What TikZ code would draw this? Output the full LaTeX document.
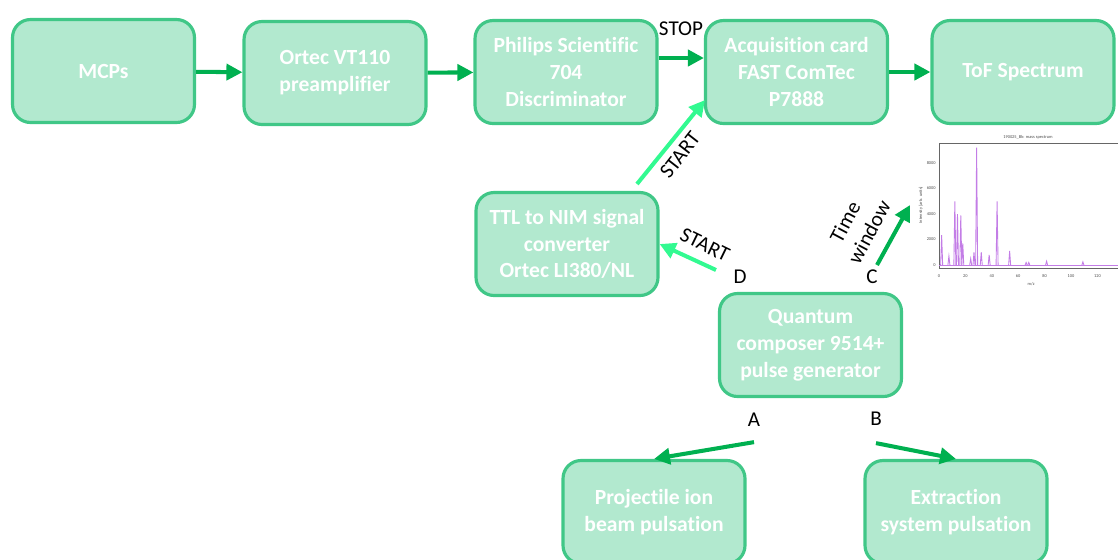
\documentclass[tikz,border=0pt]{standalone}
\usepackage{fontspec}
\setmainfont{Carlito}[Ligatures=NoCommon]
\usetikzlibrary{arrows.meta}

\definecolor{boxfill}{RGB}{178,233,207}
\definecolor{boxline}{RGB}{64,199,135}
\definecolor{darkgreen}{RGB}{0,176,80}
\definecolor{mintgreen}{RGB}{50,250,145}
\definecolor{peakcol}{RGB}{195,125,230}

\tikzset{
  block/.style={draw=boxline, fill=boxfill, line width=1.8pt, rounded corners=0.36cm,
    minimum width=3.64cm, minimum height=2.06cm, align=center, text=white,
    font=\fontsize{12.3}{15.3}\selectfont\bfseries},
  darkarr/.style={draw=darkgreen, line width=2.3pt, -{Triangle[length=0.32cm,width=0.32cm]}},
  mintarr/.style={draw=mintgreen, line width=2.3pt, -{Triangle[length=0.32cm,width=0.32cm]}},
  tag/.style={font=\fontsize{12}{14}\selectfont, inner sep=0pt},
  tiny/.style={font=\fontsize{2.5}{3}\selectfont, inner sep=0pt, text=black!70},
}

\begin{document}
\begin{tikzpicture}[x=0.02cm, y=-0.02cm]
    \useasboundingbox (0,0) rectangle (1118,559);
    \clip (0,0) rectangle (1118,559);

    % Kutular
    \node[block] (mcp) at (103.5,71) {MCPs};
    \node[block] (pre) at (335,73) {Ortec VT110\\preamplifier};
    \node[block] (disc) at (566,72) {Philips Scientific\\704\\Discriminator};
    \node[block] (acq) at (796.5,72) {Acquisition card\\FAST ComTec\\P7888};
    \node[block] (tof) at (1023,72) {ToF Spectrum};
    \node[block] (ttl) at (567,244) {TTL to NIM signal\\converter\\Ortec LI380/NL};
    \node[block] (gen) at (810.5,345) {Quantum\\composer 9514+\\pulse generator};
    \node[block] (proj) at (654,512) {Projectile ion\\beam pulsation};
    \node[block] (extr) at (956,512) {Extraction\\system pulsation};

    % Etiketler
    \node[tag] (stop) at (681,29) {STOP};
    \node[tag] (la) at (754,420) {A};
    \node[tag] (lb) at (876,419) {B};
    \node[tag] (lc) at (872,277) {C};
    \node[tag] (ld) at (740,277) {D};
    \node[tag, rotate=52] (st1) at (680,155) {START};
    \node[tag, rotate=-26] (st2) at (705,245) {START};
    \node[tag, rotate=62] (tw1) at (845,222) {Time};
    \node[tag, rotate=62] (tw2) at (869,232) {window};

    % Ok uclari
    \coordinate (ttltop) at (637,184);
    \coordinate (acqin) at (705,100);
    \coordinate (dout) at (716,270);
    \coordinate (cout) at (877,265);
    \coordinate (cin) at (910,205);

    % Oklar
    \draw[darkarr] (mcp) -- (pre);
    \draw[darkarr] (pre) -- (disc);
    \draw[darkarr] ([yshift=0.28cm]disc.east) -- ([yshift=0.28cm]acq.west);
    \draw[darkarr] (acq) -- (tof);
    \draw[mintarr] (ttltop) -- (acqin);
    \draw[mintarr] (dout) -- (ttl.east);
    \draw[darkarr] (cout) -- (cin);
    \draw[darkarr] ([yshift=-0.3cm]la.south) -- (proj.north);
    \draw[darkarr] ([yshift=-0.34cm]lb.south) -- (extr.north);

    % Spektrum
    \draw[black!60, line width=0.3pt] (939,143) -- (939,268) -- (1118,268);
    \draw[black!60, line width=0.3pt] (939,143) -- (1118,143);
    \node[tiny] (ttl2) at (1028,137) {190025\_Bk: mass spectrum};
    \node[tiny, rotate=90] (ylab) at (921,205) {Intensity [arb. units]};
    \node[tiny] (xlab) at (1031,284) {m/z};
    \foreach \v/\yy in {0/265, 2000/239.5, 4000/214, 6000/188.5, 8000/163}
        \node[tiny, anchor=east] at (936,\yy) {\v};
    \foreach \m in {0,20,...,120}
        \node[tiny] at ({939+1.32*\m},276) {\m};
    \draw[peakcol, line width=0.4pt] (939,265) -- (1118,265);
    \foreach \m/\h in {2/2350, 7.5/700, 12/5000, 14/4000, 16.5/3900, 18/1700, 24/500,
        26.5/1000, 28.5/9200, 32/1000, 38/800, 44/5000, 53.5/1100, 66/200, 68/200,
        81.5/300, 109/250}
        \draw[peakcol, line width=0.5pt] ({939+1.32*\m-1},265) -- ({939+1.32*\m},{265-\h/2000*25.5}) -- ({939+1.32*\m+1},265);

\end{tikzpicture}
\end{document}
